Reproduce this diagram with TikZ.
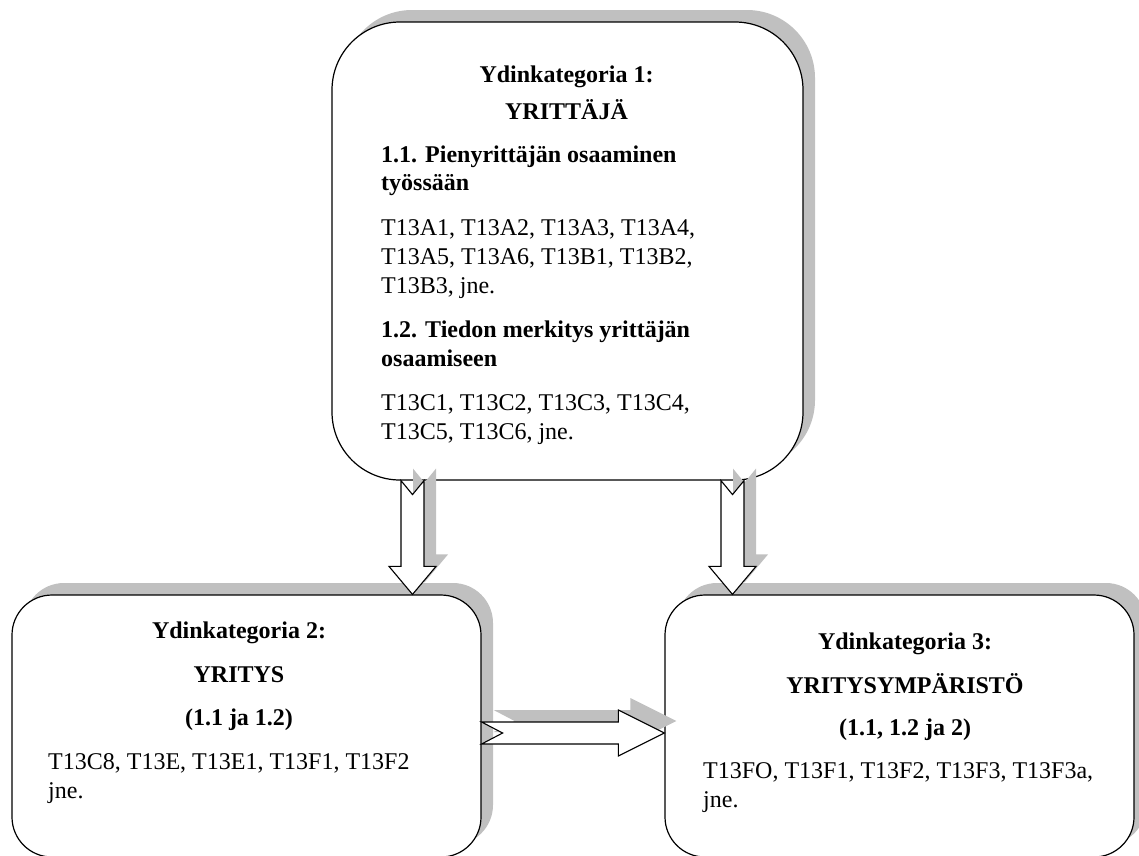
\documentclass[tikz,border=0pt]{standalone}
\usepackage{fontspec}
\setmainfont{Liberation Serif}
\usetikzlibrary{shadows,calc}
\definecolor{shade}{HTML}{C0C0C0}
\newcommand\basesize{\fontsize{24}{29}\selectfont}
\tikzset{
  flatshadow/.style={drop shadow={shadow xshift=12pt, shadow yshift=12pt, fill=shade, opacity=1}},
  panel/.style={draw=black, line width=1.2pt, fill=white, inner sep=0pt, flatshadow},
  blockarrow/.style={draw=black, line width=1.1pt, fill=white, line join=miter, flatshadow},
  head/.style={anchor=base, inner sep=0pt, font=\basesize\bfseries},
  subhead/.style={anchor=base west, inner sep=0pt, font=\basesize\bfseries},
  body/.style={anchor=base west, inner sep=0pt, font=\basesize},
}
\begin{document}
\begin{tikzpicture}[x=1pt, y=-1pt]
\useasboundingbox (0,0) rectangle (1139,855);
\clip (0,0) rectangle (1139,855);

% the three core categories
\node[panel, rounded corners=68pt, minimum width=471pt, minimum height=458pt] (core1) at (567.5,251) {};
\node[panel, rounded corners=40pt, minimum width=469pt, minimum height=262pt] (core2) at (246.5,726) {};
\node[panel, rounded corners=40pt, minimum width=469pt, minimum height=262pt] (core3) at (899.5,726) {};

% arrow end points
\coordinate (d1s) at ($(core1.south)+(-155,0)$);
\coordinate (d1e) at (d1s |- core2.north);
\coordinate (d2s) at ($(core1.south)+(165,0)$);
\coordinate (d2e) at (d2s |- core3.north);
\coordinate (hs) at ($(core2.east)+(0,7)$);
\coordinate (he) at (hs -| core3.west);

% notched block arrows
\draw[blockarrow] ($(d1s)+(-11.5,0)$) -- ($(d1s)+(0,14)$) -- ($(d1s)+(11.5,0)$)
  -- ($(d1e)+(11.5,-28)$) -- ($(d1e)+(23.5,-28)$) -- (d1e) -- ($(d1e)+(-23.5,-28)$)
  -- ($(d1e)+(-11.5,-28)$) -- cycle;
\draw[blockarrow] ($(d2s)+(-11.5,0)$) -- ($(d2s)+(0,14)$) -- ($(d2s)+(11.5,0)$)
  -- ($(d2e)+(11.5,-28)$) -- ($(d2e)+(23.5,-28)$) -- (d2e) -- ($(d2e)+(-23.5,-28)$)
  -- ($(d2e)+(-11.5,-28)$) -- cycle;
\draw[blockarrow] ($(hs)+(0,-11)$) -- ($(hs)+(21,0)$) -- ($(hs)+(0,11)$)
  -- ($(he)+(-46,11)$) -- ($(he)+(-46,23)$) -- (he) -- ($(he)+(-46,-23)$)
  -- ($(he)+(-46,-11)$) -- cycle;

% texts of core category 1
\node[head] (c1a) at (566.5,82) {Ydinkategoria 1:};
\node[head] (c1b) at (566.5,119) {YRITTÄJÄ};
\node[subhead] (c1c) at (381,162) {1.1. Pienyrittäjän osaaminen};
\node[subhead] (c1d) at (381,190) {työssään};
\node[body] (c1e) at (381,235) {T13A1, T13A2, T13A3, T13A4,};
\node[body] (c1f) at (381,264) {T13A5, T13A6, T13B1, T13B2,};
\node[body] (c1g) at (381,293) {T13B3, jne.};
\node[subhead] (c1h) at (381,337) {1.2. Tiedon merkitys yrittäjän};
\node[subhead] (c1i) at (381,366) {osaamiseen};
\node[body] (c1j) at (381,410) {T13C1, T13C2, T13C3, T13C4,};
\node[body] (c1k) at (381,439) {T13C5, T13C6, jne.};

% texts of core category 2
\node[head] (c2a) at (239,638) {Ydinkategoria 2:};
\node[head] (c2b) at (239,682) {YRITYS};
\node[head] (c2c) at (239,725) {(1.1 ja 1.2)};
\node[body] (c2d) at (48,769) {T13C8, T13E, T13E1, T13F1, T13F2};
\node[body] (c2e) at (48,798) {jne.};

% texts of core category 3
\node[head] (c3a) at (905,649) {Ydinkategoria 3:};
\node[head] (c3b) at (905,693) {YRITYSYMPÄRISTÖ};
\node[head] (c3c) at (905,735) {(1.1, 1.2 ja 2)};
\node[body] (c3d) at (703,778) {T13FO, T13F1, T13F2, T13F3, T13F3a,};
\node[body] (c3e) at (703,807) {jne.};
\end{tikzpicture}
\end{document}
